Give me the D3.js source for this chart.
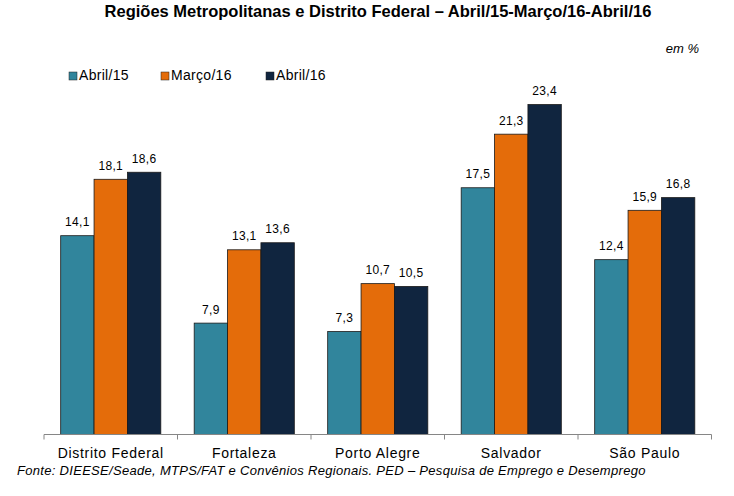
<!DOCTYPE html>
<html><head><meta charset="utf-8">
<script src="https://cdn.jsdelivr.net/npm/d3@7"></script>
<style>body{margin:0;background:#fff}svg{display:block;font-family:"Liberation Sans",Arial,sans-serif}</style>
</head><body>
<svg id="c" width="734" height="496"></svg>
<script>
const categories = ["Distrito Federal","Fortaleza","Porto Alegre","Salvador","São Paulo"];
const seriesNames = ["Abril/15","Março/16","Abril/16"];
const abril15 = [14.1, 7.9, 7.3, 17.5, 12.4];
const marco16 = [18.1, 13.1, 10.7, 21.3, 15.9];
const abril16 = [18.6, 13.6, 10.5, 23.4, 16.8];
const colors = ["#31859C","#E46C0A","#10253F"];
const series = [abril15, marco16, abril16];

const svg = d3.select("#c");
const x0 = d3.scaleBand().domain(categories).range([44, 711.5]).paddingInner(0.25).paddingOuter(0.125);
const x1 = d3.scaleBand().domain(seriesNames).range([0, x0.bandwidth()]);
const y = d3.scaleLinear().domain([0, 25]).range([434.5, 434.5 - 14.1*25]);

svg.append("text").attr("x", 378).attr("y", 17).attr("text-anchor","middle")
  .attr("font-weight","bold").attr("font-size", 16.5).attr("fill","#000")
  .text("Regiões Metropolitanas e Distrito Federal – Abril/15-Março/16-Abril/16");
svg.append("text").attr("x", 699).attr("y", 53).attr("text-anchor","end")
  .attr("font-style","italic").attr("font-size", 13).attr("fill","#000").text("em %");

// legend
const legX = [69, 161, 266];
seriesNames.forEach((n,i)=>{
  const g = svg.append("g").attr("transform",`translate(${legX[i]},72)`);
  g.append("rect").attr("x",0).attr("y",0).attr("width",8).attr("height",8).attr("fill",colors[i]).attr("stroke","#222").attr("stroke-width",0.5);
  g.append("text").attr("x",10).attr("y",8).attr("font-size",14).attr("letter-spacing",0.3).attr("fill","#000").text(n);
});

// bars
categories.forEach((c,ci)=>{
  series.forEach((s,si)=>{
    const v = s[ci];
    const bx = x0(c) + x1(seriesNames[si]);
    svg.append("rect").attr("x",bx).attr("y",y(v)).attr("width",x1.bandwidth()).attr("height",y(0)-y(v))
      .attr("fill",colors[si]).attr("stroke","#1a1a1a").attr("stroke-width",0.8);
    svg.append("text").attr("x",bx + x1.bandwidth()/2).attr("y",y(v)-9.5).attr("text-anchor","middle")
      .attr("font-size",12).attr("letter-spacing",0.3).attr("fill","#000").text(String(v.toFixed(1)).replace(".",","));
  });
});

// axis
const axis = svg.append("g").attr("transform",`translate(0,${y(0)})`);
axis.append("line").attr("x1",x0.range()[0]).attr("x2",x0.range()[1]).attr("stroke","#868686");
const bounds = categories.map(c=>x0(c)-x0.step()*x0.paddingInner()/2);
bounds.push(x0.range()[1]);
bounds.forEach(b=>axis.append("line").attr("x1",b).attr("x2",b).attr("y1",0).attr("y2",5).attr("stroke","#868686"));
categories.forEach(c=>{
  axis.append("text").attr("x",x0(c)+x0.bandwidth()/2).attr("y",23.5).attr("text-anchor","middle")
    .attr("font-size",14).attr("letter-spacing",0.7).attr("fill","#000").text(c);
});

svg.append("text").attr("x",17).attr("y",475).attr("font-style","italic").attr("font-size",13).attr("letter-spacing",0.3).attr("fill","#000")
  .text("Fonte: DIEESE/Seade, MTPS/FAT e Convênios Regionais. PED – Pesquisa de Emprego e Desemprego");
</script>
</body></html>
